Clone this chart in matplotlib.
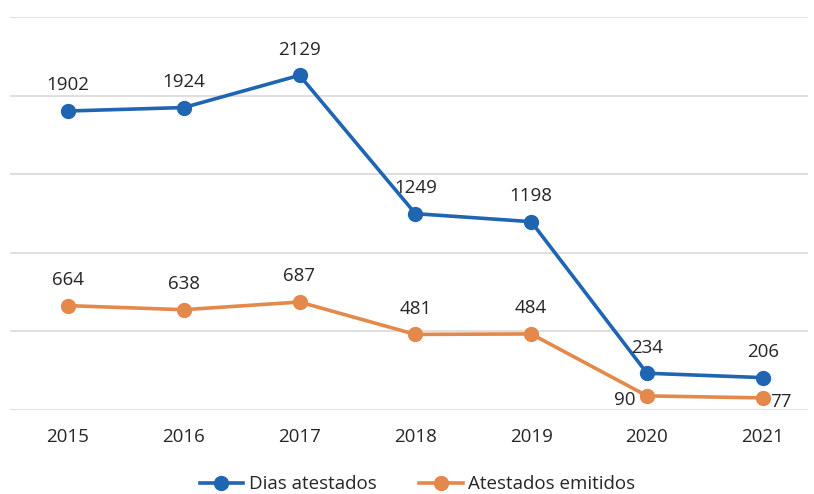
import matplotlib.pyplot as plt

# data
years = ['2015', '2016', '2017', '2018', '2019', '2020', '2021']
dias_atestados = [1902, 1924, 2129, 1249, 1198, 234, 206]
atestados_emitidos = [664, 638, 687, 481, 484, 90, 77]

blue = '#1f65b2'
orange = '#e3894b'
fs = 13.5

plt.rcParams['font.family'] = ['Open Sans', 'DejaVu Sans']

fig = plt.figure(figsize=(8.14, 4.94), dpi=100)
ax = fig.add_axes([0.0123, 0.17, 0.9803, 0.7956])

x = list(range(len(years)))
ax.plot(x, dias_atestados, color=blue, lw=2.6, marker='o', ms=10, label='Dias atestados', zorder=3)
ax.plot(x, atestados_emitidos, color=orange, lw=2.6, marker='o', ms=10, label='Atestados emitidos', zorder=3)

for i, v in enumerate(dias_atestados):
    ax.annotate(str(v), (i, v), xytext=(0, 12), textcoords='offset points',
                ha='center', va='bottom', fontsize=fs, color='#262626')

for i, v in enumerate(atestados_emitidos):
    if years[i] == '2020':
        ax.annotate(str(v), (i, v), xytext=(-8, -3), textcoords='offset points',
                    ha='right', va='center', fontsize=fs, color='#262626')
    elif years[i] == '2021':
        ax.annotate(str(v), (i, v), xytext=(5, -3), textcoords='offset points',
                    ha='left', va='center', fontsize=fs, color='#262626')
    else:
        ax.annotate(str(v), (i, v), xytext=(0, 12), textcoords='offset points',
                    ha='center', va='bottom', fontsize=fs, color='#262626')

ax.set_ylim(0, 2500)
ax.set_yticks(range(0, 2501, 500))
ax.set_xlim(-0.5, 6.39)
ax.set_xticks(x)
ax.set_xticklabels(years, fontsize=fs, color='#262626')
ax.tick_params(axis='x', length=0, pad=13)
ax.tick_params(axis='y', length=0, labelleft=False)
ax.grid(axis='y', color='#d9d9d9', lw=1.2)
ax.set_axisbelow(True)
for s in ax.spines.values():
    s.set_visible(False)

fig.legend(loc='center', bbox_to_anchor=(0.513, 0.02), ncol=2, frameon=False,
           fontsize=fs, handlelength=2.3, columnspacing=2.3, handletextpad=0.3,
           labelcolor='#262626')

fig.savefig('out.png', dpi=100)
